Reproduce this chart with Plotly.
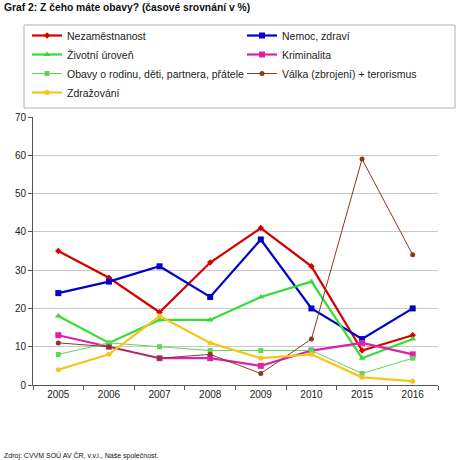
import plotly.graph_objects as go

years = ["2005", "2006", "2007", "2008", "2009", "2010", "2015", "2016"]

nezamestnanost = [35, 28, 19, 32, 41, 31, 9, 13]
nemoc = [24, 27, 31, 23, 38, 20, 12, 20]
zivotni = [18, 11, 17, 17, 23, 27, 7, 12]
kriminalita = [13, 10, 7, 7, 5, 9, 11, 8]
rodina = [8, 11, 10, 9, 9, 9, 3, 7]
valka = [11, 10, 7, 8, 3, 12, 59, 34]
zdrazovani = [4, 8, 18, 11, 7, 8, 2, 1]

series = [
    ("Nezaměstnanost", nezamestnanost, "#d40000", 2.2, "diamond", 5),
    ("Nemoc, zdraví", nemoc, "#0000c8", 2.2, "square", 6),
    ("Životní úroveň", zivotni, "#33dd33", 2.2, "triangle-up", 6),
    ("Kriminalita", kriminalita, "#dd22aa", 2.2, "square", 6),
    ("Obavy o rodinu, děti, partnera, přátele", rodina, "#5cd65c", 1.0, "square", 5),
    ("Válka (zbrojení) + terorismus", valka, "#8b3a1f", 1.0, "circle", 5),
    ("Zdražování", zdrazovani, "#f5c518", 2.2, "circle", 5),
]

L, R, T, B = 33, 22, 117, 75
pw = 460 - L - R
ph = 460 - T - B

def px(x):
    return (x - L) / pw

def py(y):
    return (460 - B - y) / ph

fig = go.Figure()
for name, vals, color, w, sym, ms in series:
    fig.add_trace(go.Scatter(
        x=years, y=vals, name=name, mode="lines+markers",
        line=dict(color=color, width=w),
        marker=dict(symbol=sym, size=ms, color=color),
    ))

fig.update_layout(
    width=460, height=460,
    margin=dict(l=L, r=R, t=T, b=B, autoexpand=False),
    paper_bgcolor="white", plot_bgcolor="white",
    font=dict(family="Liberation Sans, Arial, sans-serif", size=10, color="#222"),
    showlegend=True,
    legend=dict(
        orientation="h", x=px(27), y=py(21),
        xanchor="left", yanchor="top",
        entrywidthmode="pixels", entrywidth=170,
        itemwidth=30, font=dict(size=10.5),
        bgcolor="rgba(0,0,0,0)", traceorder="normal",
    ),
    xaxis=dict(
        type="category", range=[-0.5, 7.5],
        showline=True, linecolor="#555", linewidth=1,
        ticks="outside", tickcolor="#555", ticklen=4, tickson="boundaries",
        showgrid=False, zeroline=False, tickfont=dict(size=10),
    ),
    yaxis=dict(
        range=[0, 70], dtick=10,
        showline=True, linecolor="#555", linewidth=1,
        ticks="outside", tickcolor="#555", ticklen=4,
        showgrid=True, gridcolor="#c8c8c8", gridwidth=1,
        zeroline=False, tickfont=dict(size=10),
    ),
    annotations=[
        dict(text="<b>Graf 2: Z čeho máte obavy? (časové srovnání v %)</b>",
             x=px(2), y=py(7), xref="paper", yref="paper", showarrow=False,
             xanchor="left", yanchor="middle", font=dict(size=10.3, color="#111")),
        dict(text="Zdroj: CVVM SOÚ AV ČR, v.v.i., Naše společnost.",
             x=px(2), y=py(455), xref="paper", yref="paper", showarrow=False,
             xanchor="left", yanchor="middle", font=dict(size=7, color="#111")),
    ],
    shapes=[
        dict(type="rect", xref="paper", yref="paper",
             x0=px(24), x1=px(455), y0=py(108), y1=py(25),
             line=dict(color="#b0b0b0", width=1), fillcolor="rgba(0,0,0,0)"),
    ],
)

fig.write_html("out.html", config={"displayModeBar": False},
               post_script="document.body.style.margin='0';")
